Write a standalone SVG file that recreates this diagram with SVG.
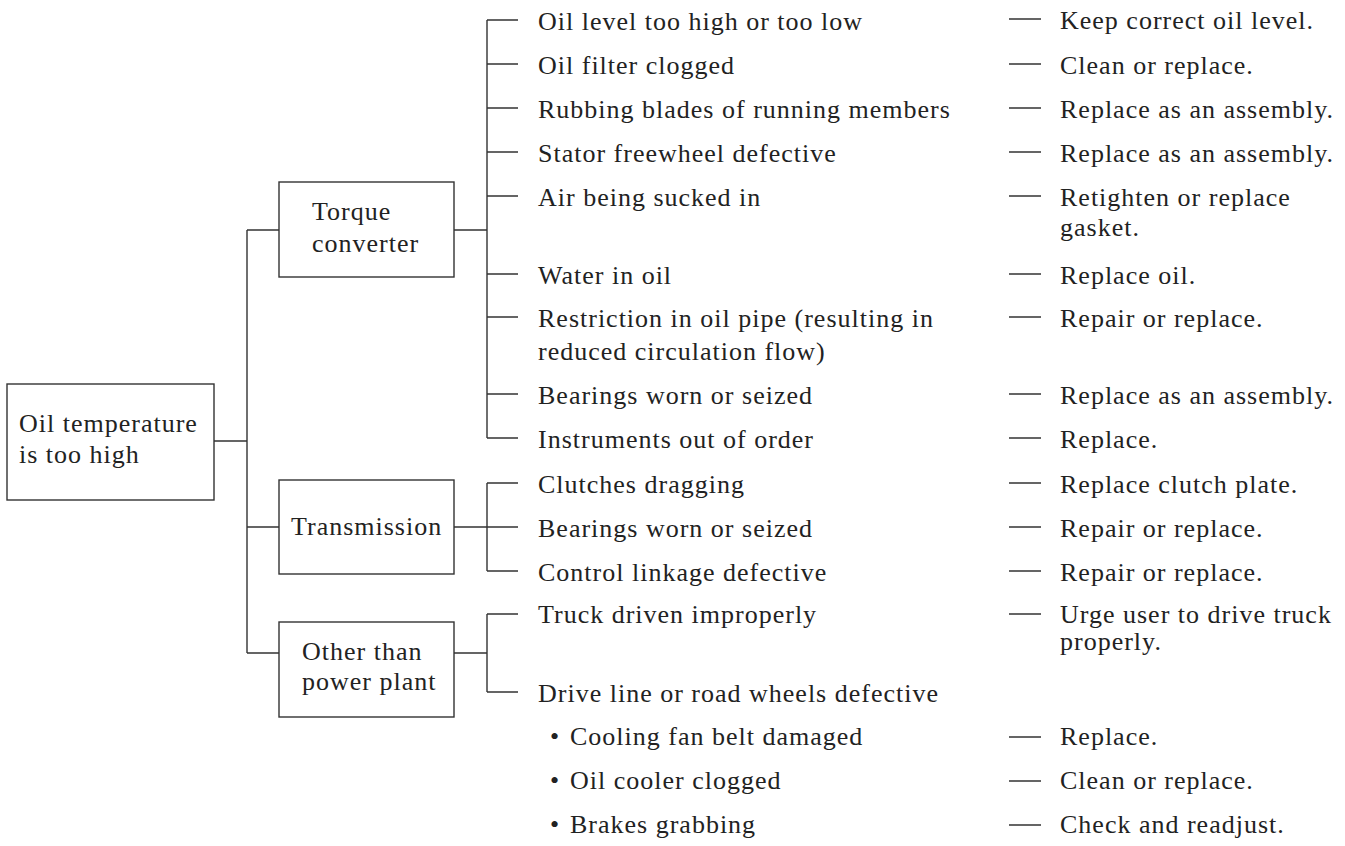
<svg xmlns="http://www.w3.org/2000/svg" width="1345" height="846" viewBox="0 0 1345 846">
<style>
text{font-family:"Liberation Serif","Times New Roman",serif;font-size:26px;letter-spacing:1px;fill:#222}
.box{fill:#fff;stroke:#333;stroke-width:1.4}
.ln{stroke:#333;stroke-width:1.4;fill:none}
</style>
<rect width="1345" height="846" fill="#fff"/>
<g id="connectors">
<path class="ln" d="M214 441H247M247 230V653M247 230H279M247 527H279M247 653H279"/>
<path class="ln" d="M454 230H487M487 20V438M487 20H518M487 64H518M487 108H518M487 152H518M487 196H518M487 274H518M487 317H518M487 394H518M487 438H518"/>
<path class="ln" d="M454 527H487M487 483V571M487 483H518M487 527H518M487 571H518"/>
<path class="ln" d="M454 653H487M487 614V692M487 614H518M487 692H518"/>
<path class="ln" d="M1009 19H1041M1009 64H1041M1009 108H1041M1009 152H1041M1009 196H1041M1009 274H1041M1009 317H1041M1009 394H1041M1009 438H1041M1009 483H1041M1009 527H1041M1009 571H1041M1009 614H1041M1009 737H1041M1009 781H1041M1009 825H1041"/>
</g>
<g id="root"><rect class="box" x="7" y="384" width="207" height="116"/><text x="19" y="432">Oil temperature</text><text x="19" y="463">is too high</text></g>
<g id="torque"><rect class="box" x="279" y="182" width="175" height="95"/><text x="312" y="220">Torque</text><text x="312" y="252">converter</text></g>
<g id="transmission"><rect class="box" x="279" y="480" width="175" height="94"/><text x="291" y="535">Transmission</text></g>
<g id="other"><rect class="box" x="279" y="622" width="175" height="95"/><text x="302" y="660">Other than</text><text x="302" y="690">power plant</text></g>
<g id="causes">
<text x="538" y="29.5">Oil level too high or too low</text>
<text x="538" y="73.5">Oil filter clogged</text>
<text x="538" y="117.5">Rubbing blades of running members</text>
<text x="538" y="161.5">Stator freewheel defective</text>
<text x="538" y="205.5">Air being sucked in</text>
<text x="538" y="283.5">Water in oil</text>
<text x="538" y="327">Restriction in oil pipe (resulting in</text>
<text x="538" y="360">reduced circulation flow)</text>
<text x="538" y="403.5">Bearings worn or seized</text>
<text x="538" y="447.5">Instruments out of order</text>
<text x="538" y="492.5">Clutches dragging</text>
<text x="538" y="536.5">Bearings worn or seized</text>
<text x="538" y="580.5">Control linkage defective</text>
<text x="538" y="623">Truck driven improperly</text>
<text x="538" y="701.5">Drive line or road wheels defective</text>
<text x="550" y="745">•<tspan x="570">Cooling fan belt damaged</tspan></text>
<text x="550" y="789">•<tspan x="570">Oil cooler clogged</tspan></text>
<text x="550" y="833">•<tspan x="570">Brakes grabbing</tspan></text>
</g>
<g id="remedies">
<text x="1060" y="29">Keep correct oil level.</text>
<text x="1060" y="73.5">Clean or replace.</text>
<text x="1060" y="117.5">Replace as an assembly.</text>
<text x="1060" y="161.5">Replace as an assembly.</text>
<text x="1060" y="205.5">Retighten or replace</text>
<text x="1060" y="236">gasket.</text>
<text x="1060" y="283.5">Replace oil.</text>
<text x="1060" y="327">Repair or replace.</text>
<text x="1060" y="403.5">Replace as an assembly.</text>
<text x="1060" y="447.5">Replace.</text>
<text x="1060" y="492.5">Replace clutch plate.</text>
<text x="1060" y="536.5">Repair or replace.</text>
<text x="1060" y="580.5">Repair or replace.</text>
<text x="1060" y="623">Urge user to drive truck</text>
<text x="1060" y="650">properly.</text>
<text x="1060" y="745">Replace.</text>
<text x="1060" y="789">Clean or replace.</text>
<text x="1060" y="833">Check and readjust.</text>
</g>
</svg>
